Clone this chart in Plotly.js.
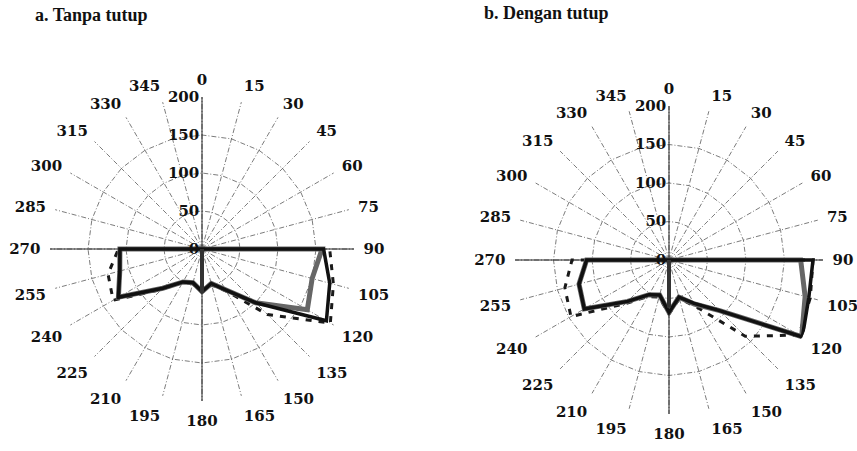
<!DOCTYPE html>
<html>
<head>
<meta charset="utf-8">
<script src="https://cdn.plot.ly/plotly-3.0.1.min.js"></script>
<style>html,body{margin:0;padding:0;background:#fff;}#chart{width:857px;height:451px;}</style>
</head>
<body>
<div id="chart"></div>
<script>
// Angles (degrees) of the measured directions
const angles = [0,15,30,45,60,75,90,105,120,135,150,165,180,195,210,225,240,255,270,285,300,315,330,345];
const angleLabels = angles.map(String);
const radialTicks = [0,50,100,150,200];

// a. Tanpa tutup
const leftSolid  = [0,0,0,0,0,0,160,174,189,100,62,47,56,46,50,73,127,112,108,0,0,0,0,0];
const leftGrey   = [0,0,0,0,0,0,158,150,160,100,62,47,56,46,50,73,127,112,108,0,0,0,0,0];
const leftDashed = [0,0,0,0,0,0,168,179,195,122,64,49,57,47,51,75,135,128,110,0,0,0,0,0];
const leftSpoke  = 58;

// b. Dengan tutup
const rightSolid  = [0,0,0,0,0,0,187,188,200,93,65,50,68,47,52,76,127,121,107,0,0,0,0,0];
const rightGrey   = [0,0,0,0,0,0,171,183,199,93,66,50,68,47,52,76,127,121,107,0,0,0,0,0];
const rightDashed = [0,0,0,0,0,0,187,190,195,140,70,52,70,50,55,80,147,140,126,0,0,0,0,0];
const rightSpoke  = 62;

const titles = ["a. Tanpa tutup", "b. Dengan tutup"];

function tracesFor(sub, solid, grey, dashed, spoke) {
  return [
    {type:'scatterpolar', subplot:sub, mode:'lines', theta:['0','180',null,'90','270'], r:[200,200,null,200,200],
     line:{color:'#222', width:1}, hoverinfo:'skip', cliponaxis:false},
    {type:'scatterpolar', subplot:sub, mode:'lines', theta:angleLabels, r:dashed,
     line:{color:'#1a1a1a', width:3, dash:'6px,7px'}, cliponaxis:false},
    {type:'scatterpolar', subplot:sub, mode:'lines', theta:angleLabels, r:grey,
     line:{color:'#666', width:5}, cliponaxis:false},
    {type:'scatterpolar', subplot:sub, mode:'lines', theta:angleLabels, r:solid,
     line:{color:'#111', width:3.5}, cliponaxis:false},
    {type:'scatterpolar', subplot:sub, mode:'lines', theta:['180','180'], r:[0,spoke],
     line:{color:'#333', width:4}, cliponaxis:false}
  ];
}

const tickFont = {family:'DejaVu Serif', size:15, color:'#111', weight:'bold'};

function polarLayout(xd, yd) {
  return {
    domain:{x:xd, y:yd},
    bgcolor:'rgba(0,0,0,0)',
    gridshape:'linear',
    angularaxis:{
      type:'category', categoryorder:'array', categoryarray:angleLabels,
      rotation:90, direction:'clockwise',
      ticks:'outside', ticklen:6, tickcolor:'rgba(0,0,0,0)', showline:false,
      gridcolor:'#444', gridwidth:0.7, griddash:'5px,2px,1px,2px',
      tickfont:tickFont
    },
    radialaxis:{
      range:[0,200], tickmode:'array', tickvals:radialTicks, ticktext:radialTicks.map(String),
      ticksuffix:'\u00a0\u00a0',
      angle:90, side:'counterclockwise', ticks:'', showline:false,
      gridcolor:'#444', gridwidth:0.7, griddash:'5px,2px,1px,2px',
      tickfont:tickFont, tickangle:90
    }
  };
}

const data = [].concat(
  tracesFor('polar', leftSolid, leftGrey, leftDashed, leftSpoke),
  tracesFor('polar2', rightSolid, rightGrey, rightDashed, rightSpoke)
);

const layout = {
  width:857, height:451,
  margin:{l:0, r:0, t:0, b:0},
  paper_bgcolor:'#fff', plot_bgcolor:'#fff',
  showlegend:false,
  polar: polarLayout([50/857, 354/857], [1-401/451, 1-97/451]),
  polar2: polarLayout([515/857, 823/857], [1-414/451, 1-106/451]),
  annotations:[
    {text:titles[0], xref:'paper', yref:'paper', x:33/857, y:1-15/451, xanchor:'left', yanchor:'middle', showarrow:false,
     font:{family:'Liberation Serif', size:18, color:'#111', weight:'bold'}},
    {text:titles[1], xref:'paper', yref:'paper', x:482/857, y:1-13/451, xanchor:'left', yanchor:'middle', showarrow:false,
     font:{family:'Liberation Serif', size:18, color:'#111', weight:'bold'}}
  ]
};

Plotly.newPlot('chart', data, layout, {displayModeBar:false, staticPlot:true});
</script>
</body>
</html>
